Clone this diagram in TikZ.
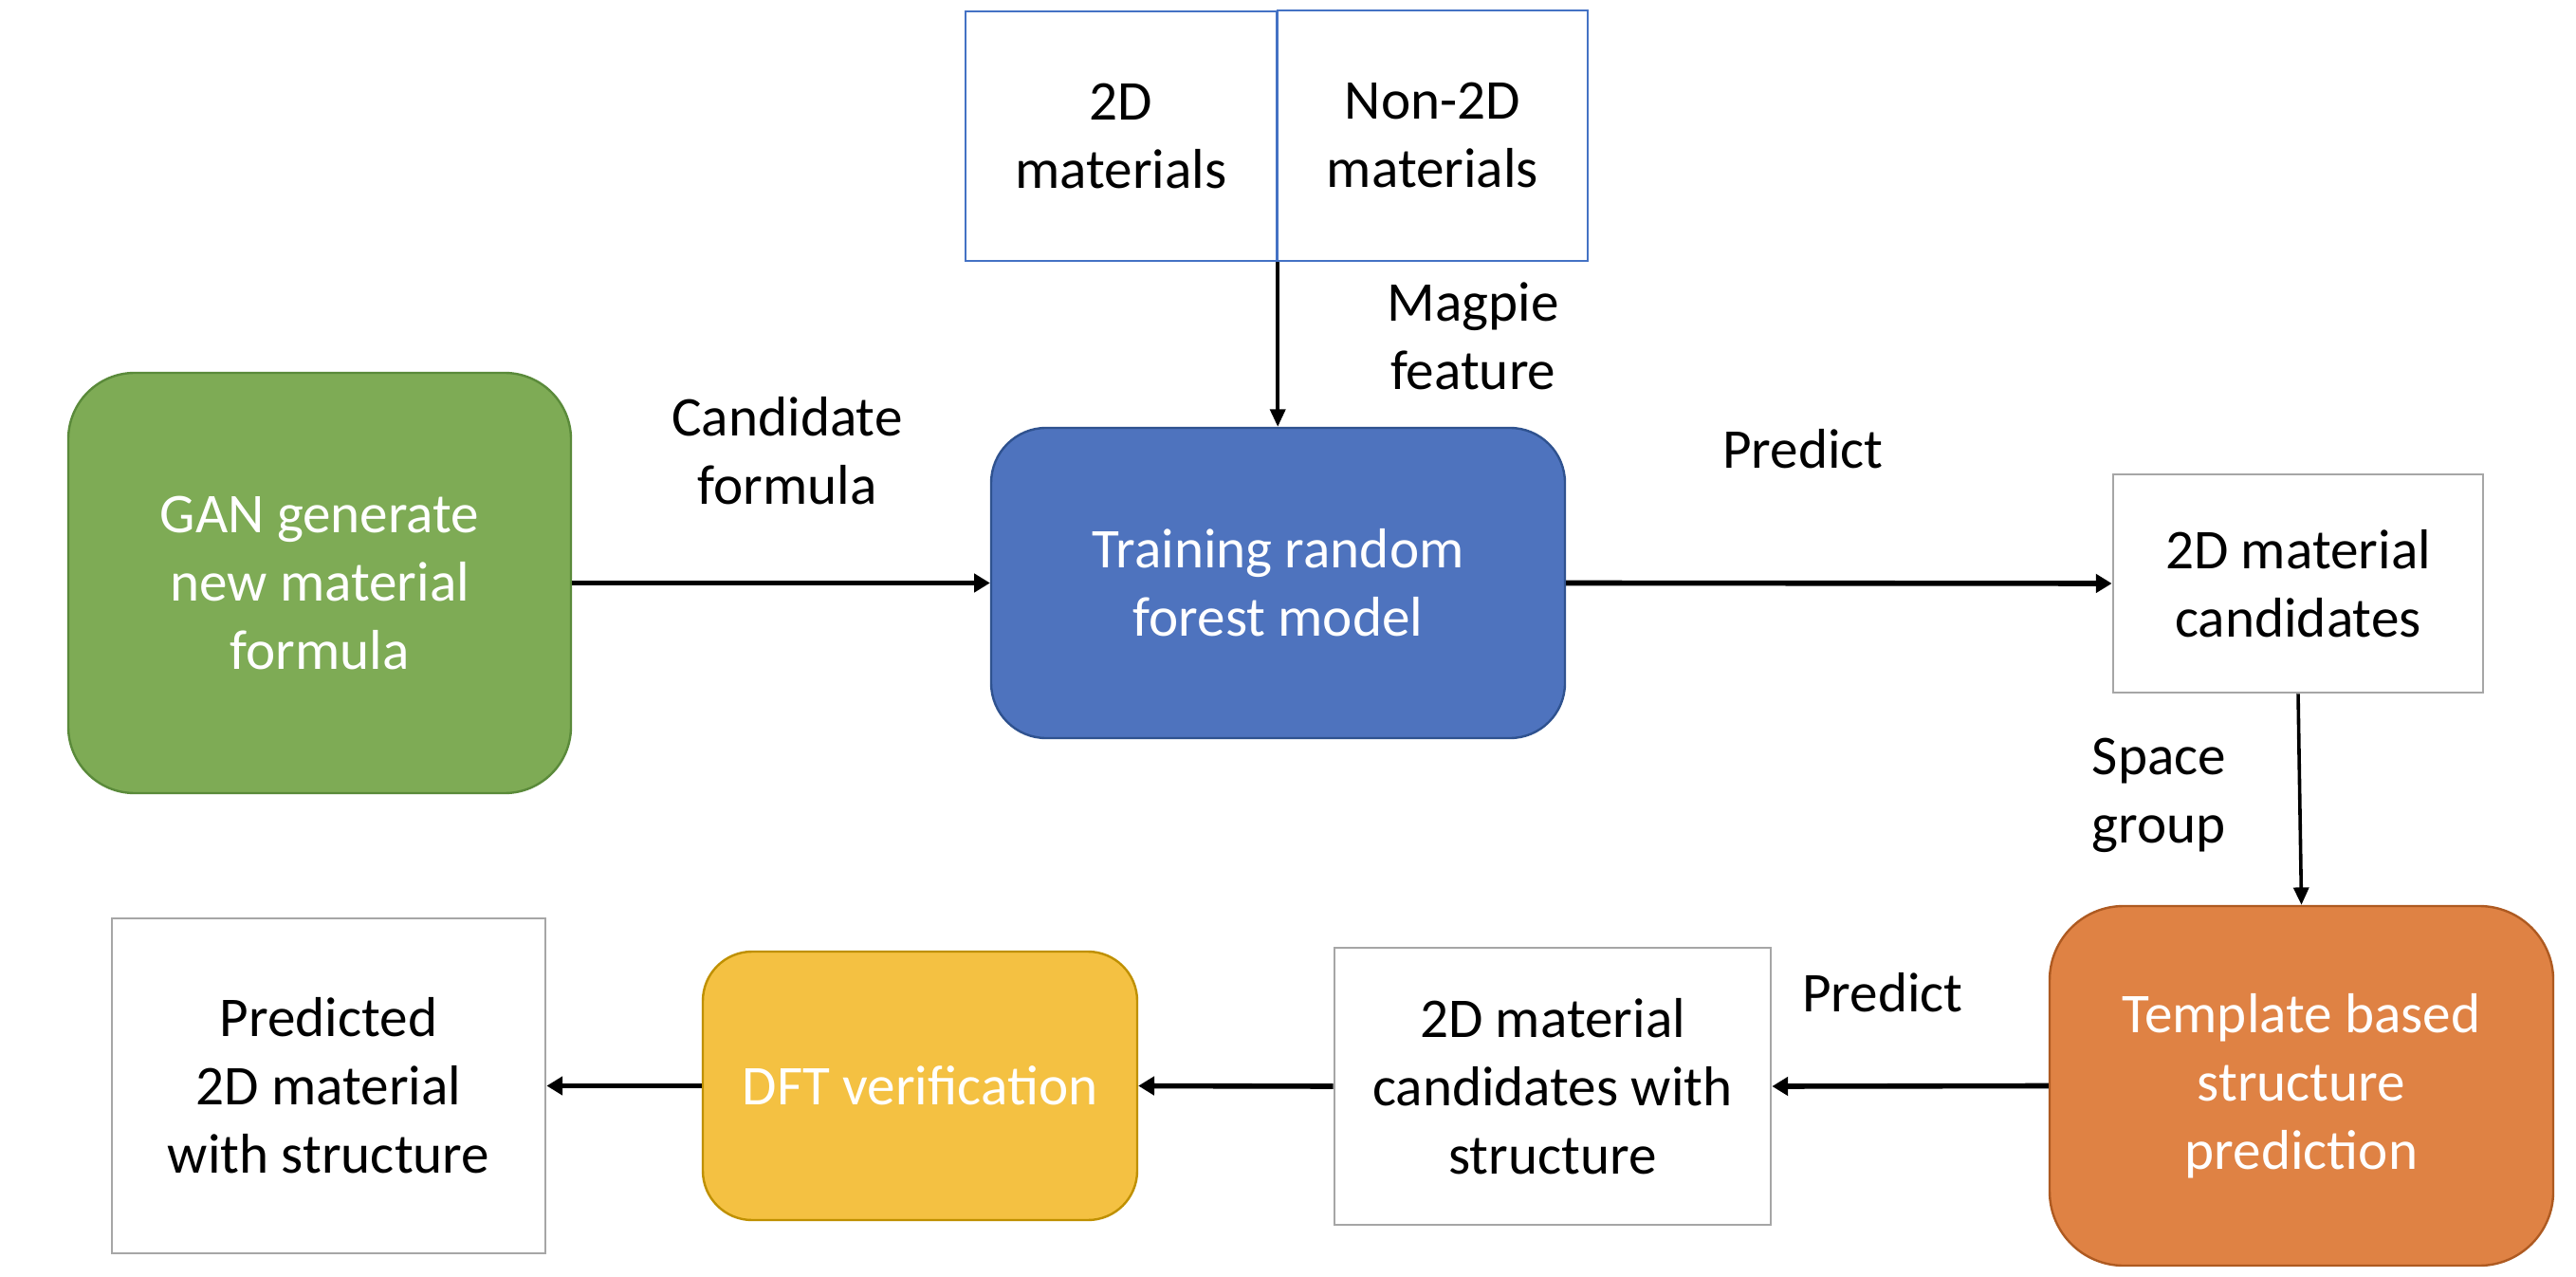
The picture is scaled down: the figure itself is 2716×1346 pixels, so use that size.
\documentclass[tikz,border=0pt]{standalone}
\usepackage{fontspec}
\setmainfont{Carlito}
\usetikzlibrary{arrows.meta}
\definecolor{gfill}{HTML}{7EAB55}
\definecolor{gline}{HTML}{5A8A3A}
\definecolor{bfill}{HTML}{4E73BE}
\definecolor{bline}{HTML}{2F528F}
\definecolor{ofill}{HTML}{DF8244}
\definecolor{oline}{HTML}{AE5A21}
\definecolor{yfill}{HTML}{F4C142}
\definecolor{yline}{HTML}{BF9000}
\definecolor{grayline}{HTML}{A6A6A6}
\definecolor{topline}{HTML}{4472C4}
\tikzset{
  txt/.style={font=\fontsize{14.8}{18}\selectfont, align=center, inner sep=0pt},
  topbox/.style={txt, draw=topline, line width=0.6pt, rectangle},
  graybox/.style={txt, draw=grayline, line width=0.7pt, rectangle, fill=white},
  roundbox/.style={txt, text=white, line width=0.6pt, rectangle},
  lbl/.style={txt},
  harrow/.style={line width=1.4pt, -{Triangle[length=4.2pt,width=4.8pt]}},
  varrow/.style={line width=0.9pt, -{Triangle[length=4.6pt,width=4pt]}},
}
\begin{document}
\begin{tikzpicture}[x=0.25pt,y=-0.25pt]
\useasboundingbox (0,0) rectangle (2716,1346);
% top boxes
\node[topbox, minimum width=82pt, minimum height=65.75pt] (m2d) at (1182,143.5) {2D\\materials};
\node[topbox, minimum width=81.75pt, minimum height=66pt] (mnon) at (1510.5,143) {Non-2D\\materials};
% main row
\node[roundbox, fill=gfill, draw=gline, rounded corners=17.5pt, minimum width=132.5pt, minimum height=110.75pt] (gan) at (337,614.5) {GAN generate\\new material\\formula};
\node[roundbox, fill=bfill, draw=bline, rounded corners=14.5pt, minimum width=151.25pt, minimum height=81.75pt] (train) at (1347.5,614.5) {Training random\\forest model};
\node[graybox, minimum width=97.5pt, minimum height=57.5pt] (cand) at (2423,615) {2D material\\candidates};
% bottom row
\node[roundbox, fill=ofill, draw=oline, rounded corners=19.5pt, minimum width=132.75pt, minimum height=94.75pt] (tmpl) at (2426.5,1144.5) {Template based\\structure\\prediction};
\node[graybox, minimum width=115pt, minimum height=73pt] (cws) at (1637,1145) {2D material\\candidates with\\structure};
\node[roundbox, fill=yfill, draw=yline, rounded corners=13pt, minimum width=114.5pt, minimum height=70.75pt] (dft) at (970,1144.5) {DFT verification};
\node[graybox, minimum width=114.25pt, minimum height=88.25pt] (pred) at (346.5,1144.5) {Predicted\\2D material\\with structure};
% labels
\node[lbl] (lcand) at (830,475) {Candidate\\formula};
\node[lbl, anchor=west] (lmag) at (1462,354) {Magpie\\feature};
\node[lbl] (lpred1) at (1901,473) {Predict};
\node[lbl, anchor=west] (lspace) at (2205,838) {Space\\group};
\node[lbl] (lpred2) at (1985,1046) {Predict};
% connectors
\draw[varrow] (m2d.south east) -- (m2d.south east |- train.north);
\draw[harrow] (gan.east) -- (train.west);
\draw[harrow] (train.east) -- (cand.west);
\draw[varrow] (cand.south) -- (tmpl.north);
\draw[harrow] (tmpl.west) -- (cws.east);
\draw[harrow] (cws.west) -- (dft.east);
\draw[harrow] (dft.west) -- (pred.east);
\end{tikzpicture}
\end{document}
